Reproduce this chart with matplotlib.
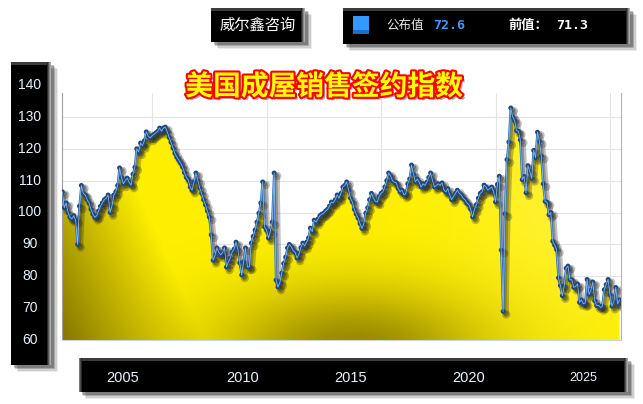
import numpy as np
import matplotlib
matplotlib.use('Agg')
import matplotlib.pyplot as plt
import matplotlib.patheffects as pe
from matplotlib.patches import Rectangle
from matplotlib import transforms

# monthly pending home sales index, Jan 2001 .. May 2025
start_year = 2001
phsi_2001_2005 = [106.5, 101.5, 103, 100, 98.5, 98, 99, 97.5, 90, 102, 108.5, 106,
                  105.5, 104, 103, 101, 99.5, 98.5, 99, 100.5, 102, 103, 104, 104.5,
                  105.5, 100, 102, 105.5, 106.5, 108.5, 114, 111, 109, 110, 110.8, 109.5,
                  108.6, 112, 114.2, 120, 119, 121.8, 121, 122.5, 125.3, 124, 123.4, 124,
                  124.5, 125, 125.5, 126.5, 125.5, 126.5, 126.8, 125.3, 123.5, 122, 120.2, 118.5]
phsi_2006_2010 = [117.4, 116.5, 115.5, 114.3, 112.5, 111, 110.2, 108, 107, 109.5, 112.4, 110,
                  107.7, 106, 104, 102.4, 100.5, 98.6, 93, 85, 86.5, 88.9, 87.5, 86.7,
                  87.5, 88.9, 82.9, 84.5, 85.7, 87.6, 88.5, 90.7, 88.5, 84.2, 80.4, 84.5,
                  88.9, 82.9, 83, 90.4, 92.5, 94.5, 97, 99.8, 103, 109.6, 95.5, 94.5,
                  92, 94, 97, 112.4, 78.8, 76.6, 78, 81, 84, 86, 88.9, 90]
phsi_2011_2015 = [89.2, 88, 87.5, 85.7, 87, 89, 90.4, 89.5, 90.7, 92, 95.1, 94,
                  97.6, 97, 98, 99, 99.5, 99.8, 100.5, 101, 102, 103.3, 103, 104,
                  105.5, 104.5, 106, 108, 108.5, 109.6, 107, 104.5, 103.3, 101, 99.5, 98.3,
                  96.5, 95, 96.5, 99.8, 101.5, 104, 106, 104.5, 103.5, 103.3, 105, 106,
                  106.5, 108, 110, 112.4, 111.5, 110, 109.5, 109.3, 107.5, 106.5, 107, 105.5]
phsi_2016_2020 = [106, 109, 110.5, 114.9, 112, 109.6, 110.5, 109.5, 108, 109, 108.5, 109.5,
                  111, 112.4, 110, 108, 108.5, 109, 108.5, 109.3, 107, 106.5, 107.5, 105.5,
                  104, 105, 106, 107, 106, 105.5, 104.5, 104, 103, 102.5, 101, 98.6,
                  101, 102.5, 104.5, 106, 106.5, 108.6, 108, 107, 107.5, 108, 106.5, 103.3,
                  108.8, 111.4, 88.2, 69.0, 99.6, 116.6, 122.1, 132.8, 130.0, 128.9, 125.7, 125.5]
phsi_2021_2025 = [122.8, 110.3, 111.3, 106.2, 114.7, 112.8, 110.7, 119.5, 117.2, 125.2, 122.4, 117.7,
                  109, 103.5, 103.2, 99.3, 100, 91, 89.8, 88.4, 79.5, 77.1, 73.9, 76.9,
                  82.5, 83.2, 78.9, 78.9, 76.5, 76.8, 77.6, 71.8, 72.6, 71.4, 71.6, 79.0,
                  74.3, 75.6, 78.2, 72.3, 70.8, 70.9, 70.2, 70.6, 75.8, 77.4, 79.0, 74.2,
                  70.6, 72.0, 76.5, 71.3, 72.6]

y_ticks = [60, 70, 80, 90, 100, 110, 120, 130, 140]
year_labels = ['2005', '2010', '2015', '2020', '2025']
title = '美国成屋销售签约指数'
brand = '威尔鑫咨询'
latest_value = 72.6
previous_value = 71.3

values = np.array(phsi_2001_2005 + phsi_2006_2010 + phsi_2011_2015 + phsi_2016_2020 + phsi_2021_2025)
x = start_year + (np.arange(len(values)) + 1) / 12.0

CJK = ['Noto Sans CJK SC', 'DejaVu Sans']

W, H = 643, 404
fig = plt.figure(figsize=(W / 100, H / 100), dpi=100)
fig.patch.set_facecolor('white')

# pixel-space layer for the black boxes
bg = fig.add_axes([0, 0, 1, 1], zorder=0)
bg.set_xlim(0, W)
bg.set_ylim(H, 0)
bg.axis('off')


def draw_box(x0, y0, x1, y1, right=True, top=True, left=False):
    w, h = x1 - x0, y1 - y0
    for off, a in [(7, 0.08), (5.5, 0.12), (4, 0.18), (2.5, 0.25)]:
        bg.add_patch(Rectangle((x0 + off, y0 + off), w, h, fc='black', alpha=a, lw=0))
    bg.add_patch(Rectangle((x0, y0), w, h, fc='black', lw=0))
    if top:
        bg.add_patch(Rectangle((x0, y0), w, 3, fc='#3c3c3c', lw=0))
    if right:
        for j, c in enumerate(['#2a2a2a', '#555555', '#888888', '#aaaaaa']):
            bg.add_patch(Rectangle((x1 - 4 + j, y0), 1, h, fc=c, lw=0))
    if left:
        for j, c in enumerate(['#777777', '#4a4a4a', '#2a2a2a']):
            bg.add_patch(Rectangle((x0 + j, y0), 1, h, fc=c, lw=0))


draw_box(211, 8, 305, 42)
draw_box(343, 8, 630, 44)
draw_box(11, 62, 51, 365)
draw_box(79, 358, 628, 392, left=True)

bg.text(258, 25, brand, color='white', fontsize=11, family=CJK, ha='center', va='center')
bg.add_patch(Rectangle((353, 16), 16, 18, fc='#3399ff', lw=0))
bg.add_patch(Rectangle((353, 30), 16, 4, fc='#1f6fc0', lw=0))
bg.text(405, 25, '公布值', color='#e6e6e6', fontsize=9, family=CJK, ha='center', va='center')
bg.text(449, 25.5, f'{latest_value:.1f}', color='#3d9bff', fontsize=9.5, family='DejaVu Sans Mono',
        weight='bold', ha='center', va='center')
bg.text(528, 25, '前值：', color='white', fontsize=9.5, family=CJK, weight='bold', ha='center', va='center')
bg.text(572, 25.5, f'{previous_value:.1f}', color='white', fontsize=9.5, family='DejaVu Sans Mono',
        weight='bold', ha='center', va='center')

x_label_pos = [123, 243, 351, 469, 583]
for lab, px in zip(year_labels, x_label_pos):
    bg.text(px, 378, lab, color='#eaf4ff', fontsize=10.5 if lab != '2025' else 9,
            family='Liberation Sans', ha='center', va='center')

# main plot
left_px, right_px, top_px, bottom_px = 62, 621, 93, 340
px_per_year = 22.9
px_per_unit = (bottom_px - 85) / 80.0
x_left = 2005 + (left_px - 152) / px_per_year
x_right = 2005 + (right_px - 152) / px_per_year
y_top = 60 + (bottom_px - top_px) / px_per_unit

ax = fig.add_axes([left_px / W, 1 - bottom_px / H, (right_px - left_px) / W, (bottom_px - top_px) / H],
                  zorder=1)
ax.set_facecolor('white')

# gradient fill under the curve
gx = np.linspace(left_px, right_px, 560)
gy = np.linspace(top_px, bottom_px, 248)
PX, PY = np.meshgrid(gx, gy)
s = (PX - 142) * (-0.91) + (PY - 200) * 0.41
d1 = np.clip(s / 150.0, 0, 1)
d2 = 0.75 * np.exp(-0.5 * (((PX - 355) / 95) ** 2 + ((PY - 352) / 45) ** 2))
d = 1 - (1 - d1) * (1 - d2)
pale = 0.5 * np.exp(-0.5 * (((PX - 580) / 75) ** 2 + ((PY - 190) / 85) ** 2))
bright = np.array([1.0, 0.94, 0.0])
dark = np.array([0.45, 0.39, 0.0])
pale_c = np.array([1.0, 0.95, 0.42])
col = bright * (1 - d)[..., None] + dark * d[..., None]
col = col * (1 - pale)[..., None] + pale_c * pale[..., None]

poly = ax.fill_between(x, 60, values, facecolor='none', edgecolor='none')
im = ax.imshow(col, extent=(x_left, x_right, 60, y_top), origin='upper', aspect='auto',
               interpolation='bilinear', zorder=1)
im.set_clip_path(poly.get_paths()[0], transform=ax.transData)

ax.plot(x, values, color='#2f70b8', lw=1.7, marker='o', ms=2.5, mfc='#1b4a85', mec='#1b4a85', zorder=3,
        path_effects=[pe.SimpleLineShadow(offset=(2.2, -2.2), shadow_color='#222222', alpha=0.28, linewidth=3.5),
                      pe.SimpleLineShadow(offset=(1.5, -1.5), shadow_color='#222222', alpha=0.28),
                      pe.Normal()])
ax.plot(x, values, color='#a8cdf2', lw=0.6, alpha=0.8, zorder=4)

ax.set_xlim(x_left, x_right)
ax.set_ylim(60, y_top)
ax.set_yticks(y_ticks[1:-1])
ax.set_xticks([int(s) for s in year_labels])
ax.grid(color='#e4e4e4', lw=0.8)
ax.set_axisbelow(True)
ax.tick_params(length=0, labelleft=False, labelbottom=False)
ax.spines['top'].set_visible(False)
ax.spines['left'].set_color('#a0a0a0')
ax.spines['right'].set_color('#b4b4b4')
ax.spines['bottom'].set_color('#c8d4e0')

# y labels sit in the left black box, on the data scale
trans = transforms.blended_transform_factory(bg.transData, ax.transData)
for v in y_ticks:
    ax.text(30, v, str(v), transform=trans, color='#e6f2ff', fontsize=10,
            family='Liberation Sans', ha='center', va='center')

fig.text(324 / W, 1 - 87 / H, title, color='#ffff00', fontsize=20, weight='bold', family=CJK,
         ha='center', va='center', zorder=10,
         path_effects=[pe.SimplePatchShadow(offset=(2, -2), shadow_rgbFace='#777777', alpha=0.6),
                       pe.Stroke(linewidth=3, foreground='#ff0000'), pe.Normal()])

fig.savefig('out.png', dpi=100)
